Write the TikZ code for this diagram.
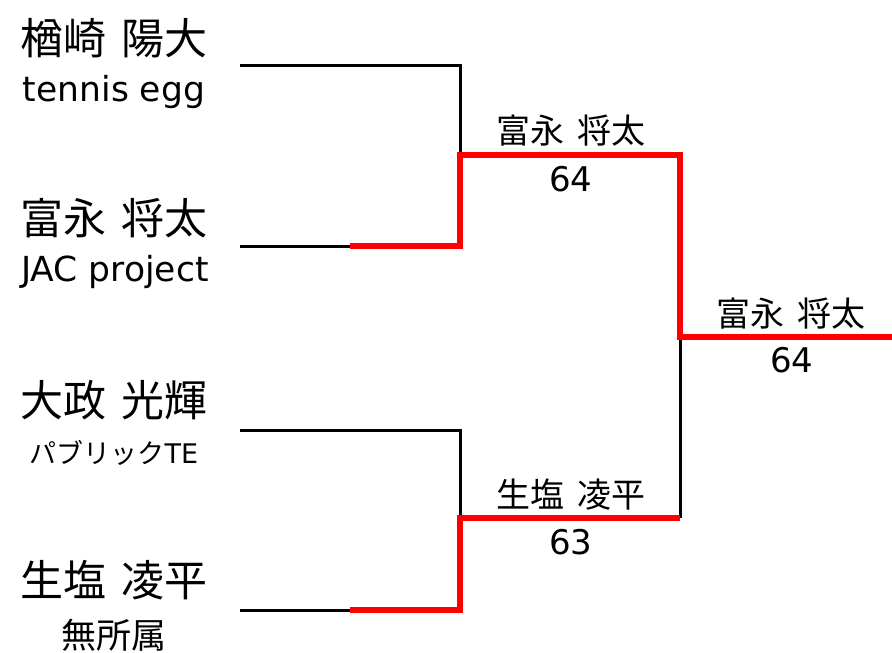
\documentclass[tikz,border=0pt]{standalone}
\usepackage{fontspec}
\setmainfont{DejaVu Sans}
\newfontfamily\cjk[WordSpace=1.6]{Noto Sans CJK JP}
\usetikzlibrary{positioning}

\begin{document}
\begin{tikzpicture}[
    x=1pt, y=-1pt,
    player/.style={inner sep=0pt, font=\cjk\fontsize{43}{45}\selectfont},
    team/.style={inner sep=0pt, font=\fontsize{34.5}{36}\selectfont},
    winner/.style={inner sep=0pt, font=\cjk\fontsize{34}{36}\selectfont},
    score/.style={inner sep=0pt, font=\fontsize{34}{36}\selectfont},
    lose/.style={line width=3pt},
    win/.style={line width=5.5pt, red}
]
\useasboundingbox (0,0) rectangle (892,653);

\node[player] (p1) at (114,38) {楢崎 陽大};
\node[team] (t1) at (114,92) {tennis egg};
\node[player] (p2) at (114,218) {富永 将太};
\node[team] (t2) at (115,272) {JAC project};
\node[player] (p3) at (114,400) {大政 光輝};
\node[team, font=\cjk\fontsize{27}{30}\selectfont] (t3) at (114,453) {パブリック\fontspec{DejaVu Sans}TE};
\node[player] (p4) at (114,580) {生塩 凌平};
\node[team, font=\cjk\fontsize{35}{36}\selectfont] (t4) at (114,635) {無所属};

\coordinate (a1) at (240,65);
\coordinate (a2) at (240,246);
\coordinate (a3) at (240,430);
\coordinate (a4) at (240,610);
\coordinate (b2) at (350,246);
\coordinate (b4) at (350,610);
\coordinate (c1) at (460,65);
\coordinate (c2) at (460,246);
\coordinate (c3) at (460,430);
\coordinate (c4) at (460,610);
\coordinate (m1) at (460,155);
\coordinate (m2) at (460,518);
\coordinate (n1) at (680,155);
\coordinate (n2) at (680,518);
\coordinate (f) at (680,337);
\coordinate (g) at (892,337);

\draw[lose] (a1) -- (c1) -- (m1);
\draw[lose] (a2) -- (b2);
\draw[lose] (a3) -- (c3) -- (m2);
\draw[lose] (a4) -- (b4);
\draw[lose] (n2) -- (f);
\draw[win] (b2) -- (c2) -- (m1) -- (n1) -- (f) -- (g);
\draw[win] (b4) -- (c4) -- (m2) -- (n2);

\node[winner] (w1) at (571,131) {富永 将太};
\node[score] (s1) at (571,179) {64};
\node[winner] (w2) at (571,495) {生塩 凌平};
\node[score] (s2) at (571,542) {63};
\node[winner] (w3) at (791,314) {富永 将太};
\node[score] (s3) at (792,360) {64};
\end{tikzpicture}
\end{document}
